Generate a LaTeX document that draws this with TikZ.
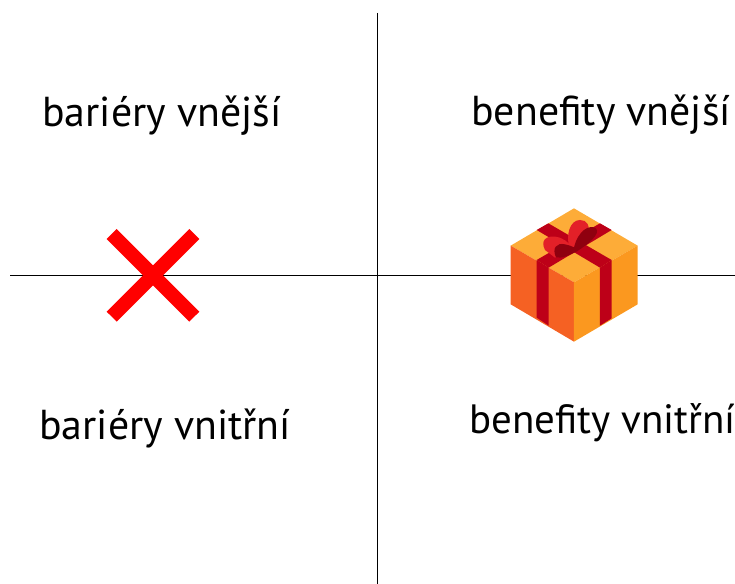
\documentclass[tikz,border=0pt]{standalone}
\usepackage{fontspec}
\setmainfont{PT Sans}
\usetikzlibrary{positioning}
\definecolor{crossred}{HTML}{FF0000}
\definecolor{boxtop}{HTML}{FDAC38}
\definecolor{boxleft}{HTML}{F56123}
\definecolor{boxright}{HTML}{FB981F}
\definecolor{ribbonred}{HTML}{BD0018}
\definecolor{bowlight}{HTML}{E32028}
\definecolor{bowdark}{HTML}{8F000F}
\tikzset{quadlabel/.style={inner sep=0pt, anchor=base west, font=\fontsize{23.8}{28}\selectfont}}

\begin{document}
\begin{tikzpicture}[x=0.02cm, y=-0.02cm]
\useasboundingbox (0,0) rectangle (735,584);

% Axes
\coordinate (west) at (10,275);
\coordinate (east) at (735,275);
\coordinate (north) at (377,13);
\coordinate (south) at (377,584);
\draw[line width=0.4pt] (west) -- (east);
\draw[line width=0.4pt] (north) -- (south);

% Quadrant labels
\node[quadlabel] (outerbar) at (42,127) {bariéry vnější};
\node[quadlabel] (outerben) at (471,126) {benefity vnější};
\node[quadlabel] (innerbar) at (39,440) {bariéry vnitřní};
\node[quadlabel, font=\fontsize{23.3}{28}\selectfont] (innerben) at (469,434) {benefity vnitřní};

% Red cross
\coordinate (crossa) at (111.7,234);
\coordinate (crossb) at (194.3,316.7);
\coordinate (crossc) at (194.3,234);
\coordinate (crossd) at (111.7,316.7);
\draw[crossred, line width=0.283cm] (crossa) -- (crossb);
\draw[crossred, line width=0.283cm] (crossc) -- (crossd);

% Gift box
\begin{scope}[shift={(490,195)}, x=0.00667cm, y=-0.00667cm]
\fill[boxtop] (252,40) -- (443,152) -- (252,262) -- (62,152) -- cycle;
\fill[boxleft] (62,152) -- (252,262) -- (252,440) -- (62,328) -- cycle;
\fill[boxright] (443,152) -- (252,262) -- (252,440) -- (443,328) -- cycle;
% Ribbon
\fill[ribbonred] (140,105) -- (175,85) -- (365,195) -- (330,218) -- cycle;
\fill[ribbonred] (330,85) -- (365,105) -- (176,218) -- (140,195) -- cycle;
\fill[ribbonred] (140,195) -- (176,218) -- (176,392) -- (140,368) -- cycle;
\fill[ribbonred] (330,218) -- (365,195) -- (365,370) -- (330,392) -- cycle;
% Bow
\fill[bowlight] (165,165) .. controls (150,135) and (170,122) .. (195,125) .. controls (220,128) and (235,140) .. (250,165) -- (195,188) -- cycle;
\fill[bowlight] (240,165) .. controls (225,120) and (240,75) .. (270,75) .. controls (290,75) and (305,90) .. (290,130) -- (255,170) -- cycle;
\fill[bowdark] (250,170) .. controls (255,125) and (285,90) .. (312,97) .. controls (335,105) and (315,135) .. (262,168) -- cycle;
\fill[bowdark] (198,187) .. controls (185,160) and (200,142) .. (225,148) .. controls (245,152) and (260,160) .. (265,167) .. controls (240,180) and (215,192) .. (198,187) -- cycle;
\end{scope}
\end{tikzpicture}
\end{document}
